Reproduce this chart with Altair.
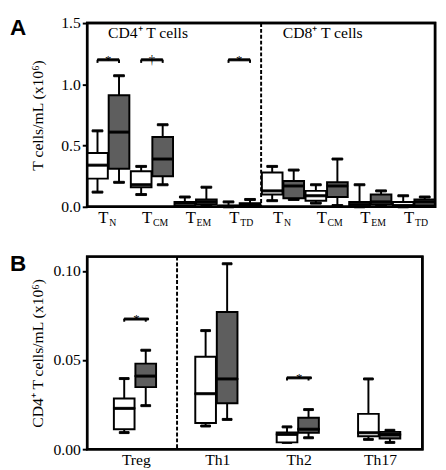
import altair as alt
import pandas as pd

FONT = "Liberation Serif"
groups = ["Control", "Patients"]
fills = ["white", "#5e5e5e"]

# ---------------- Panel A data ----------------
cats_a = ["CD4 TN", "CD4 TCM", "CD4 TEM", "CD4 TTD", "CD8 TN", "CD8 TCM", "CD8 TEM", "CD8 TTD"]
subs_a = ["N", "CM", "EM", "TD", "N", "CM", "EM", "TD"]

a_white_low = [0.12, 0.10, 0.005, 0.0, 0.05, 0.03, 0.0, 0.0]
a_white_q1 = [0.23, 0.16, 0.01, 0.0, 0.10, 0.05, 0.005, 0.0]
a_white_med = [0.34, 0.18, 0.03, 0.005, 0.13, 0.09, 0.02, 0.01]
a_white_q3 = [0.44, 0.29, 0.04, 0.01, 0.28, 0.13, 0.04, 0.04]
a_white_high = [0.62, 0.33, 0.08, 0.04, 0.33, 0.18, 0.18, 0.09]

a_grey_low = [0.20, 0.18, 0.01, 0.005, 0.06, 0.01, 0.01, 0.01]
a_grey_q1 = [0.31, 0.25, 0.02, 0.01, 0.07, 0.08, 0.02, 0.01]
a_grey_med = [0.61, 0.39, 0.04, 0.02, 0.17, 0.17, 0.04, 0.04]
a_grey_q3 = [0.91, 0.57, 0.06, 0.03, 0.21, 0.20, 0.10, 0.06]
a_grey_high = [1.07, 0.67, 0.16, 0.06, 0.30, 0.39, 0.13, 0.08]

a_sig_cats = ["CD4 TN", "CD4 TCM", "CD4 TTD"]
a_sig_y = [1.2, 1.2, 1.2]
a_sig_text = ["*", "†", "*"]

# ---------------- Panel B data ----------------
cats_b = ["Treg", "Th1", "Th2", "Th17"]

b_white_low = [0.0093, 0.0130, 0.0038, 0.0055]
b_white_q1 = [0.0112, 0.0147, 0.0038, 0.0073]
b_white_med = [0.0229, 0.0311, 0.0083, 0.0092]
b_white_q3 = [0.0284, 0.0518, 0.0093, 0.0198]
b_white_high = [0.0396, 0.0665, 0.0125, 0.0394]

b_grey_low = [0.0244, 0.0167, 0.0064, 0.0038]
b_grey_q1 = [0.0348, 0.0258, 0.0092, 0.0060]
b_grey_med = [0.0410, 0.0394, 0.0112, 0.0082]
b_grey_q3 = [0.0480, 0.0769, 0.0176, 0.0097]
b_grey_high = [0.0555, 0.1040, 0.0222, 0.0106]

b_sig_cats = ["Treg", "Th2"]
b_sig_y = [0.073, 0.040]
b_sig_text = ["*", "*"]


def box_table(cats, w, g):
    rows = []
    for i, c in enumerate(cats):
        for grp, vals in zip(groups, (w, g)):
            rows.append({"cat": c, "grp": grp, "low": vals[0][i], "q1": vals[1][i],
                         "med": vals[2][i], "q3": vals[3][i], "high": vals[4][i]})
    return pd.DataFrame(rows)


def panel(df, cats, sig_cats, sig_y, sig_text, end_len, ydomain, yvalues, yformat, ytitle,
          width, height, pin, pout, align, opin, boxw, capw, brw, xaxis, letter, letter_y,
          divider_after):
    xs = alt.Scale(domain=cats, paddingInner=pin, paddingOuter=pout, align=align)
    ys = alt.Scale(domain=ydomain, nice=False, zero=True)
    yaxis = alt.Axis(values=yvalues, format=yformat, title=ytitle, grid=False, domain=False,
                     tickSize=5, tickWidth=2, tickColor="black", labelColor="black",
                     labelFont=FONT, labelFontSize=16, labelPadding=2,
                     titleFont=FONT, titleFontSize=16, titleFontWeight="normal", titleColor="black",
                     minExtent=38, maxExtent=38, titlePadding=5)
    X = alt.X("cat:N", scale=xs, axis=xaxis, title=None)
    XO = alt.XOffset("grp:N", scale=alt.Scale(domain=groups, paddingInner=opin))

    def Y(f):
        return alt.Y(f, scale=ys, axis=yaxis)

    base = alt.Chart(df)
    whisk = base.mark_rule(stroke="black", strokeWidth=2).encode(x=X, xOffset=XO, y=Y("low:Q"), y2="high:Q")
    cap_lo = base.mark_tick(fill="black", stroke="black", opacity=1, thickness=2, size=capw).encode(
        x=X, xOffset=XO, y=Y("low:Q"))
    cap_hi = base.mark_tick(fill="black", stroke="black", opacity=1, thickness=2, size=capw).encode(
        x=X, xOffset=XO, y=Y("high:Q"))
    box = base.mark_bar(stroke="black", strokeWidth=2, opacity=1).encode(
        x=X, xOffset=XO, y=Y("q1:Q"), y2="q3:Q",
        fill=alt.Fill("grp:N", scale=alt.Scale(domain=groups, range=fills), legend=None))
    med = base.mark_tick(fill="black", stroke="black", opacity=1, thickness=2, size=boxw).encode(
        x=X, xOffset=XO, y=Y("med:Q"))

    sig = pd.DataFrame({"cat": sig_cats, "y": sig_y, "t": sig_text})
    ends = pd.DataFrame([{"cat": c, "grp": g, "y": y, "y2": y - end_len}
                         for c, y in zip(sig_cats, sig_y) for g in groups])
    br = alt.Chart(sig).mark_tick(fill="black", stroke="black", opacity=1, thickness=2, size=brw).encode(
        x=X, y=Y("y:Q"))
    br_end = alt.Chart(ends).mark_rule(stroke="black", strokeWidth=2).encode(
        x=X, xOffset=XO, y=Y("y:Q"), y2="y2:Q")
    star = alt.Chart(sig).mark_text(font=FONT, fontSize=13, baseline="alphabetic", dy=4,
                                    fill="black", opacity=1).encode(x=X, y=Y("y:Q"), text="t:N")

    let = alt.Chart(pd.DataFrame({"t": [letter]})).mark_text(
        font="Liberation Sans", fontWeight="bold", fontSize=23, align="left", baseline="top",
        fill="black").encode(text="t:N", x=alt.value(-79), y=alt.value(letter_y))

    # plot frame
    frame = alt.Chart(pd.DataFrame({"f": [0]})).mark_rect(
        fillOpacity=0, stroke="black", strokeWidth=2.5).encode(
        x=alt.value(0), x2=alt.value(width), y=alt.value(0), y2=alt.value(height))

    # dashed divider: boundary between band k and k+1, in "step" units of the band scale
    k = cats.index(divider_after)
    total = len(cats) - pin + 2 * pout
    pos = 2 * pout * align + (k + 1) - pin / 2
    div = alt.Chart(pd.DataFrame({"pos": [pos]})).mark_rule(
        stroke="black", strokeWidth=2, strokeDash=[4, 2]).encode(
        x=alt.X("pos:Q", scale=alt.Scale(domain=[0, total], nice=False, zero=False), axis=None),
        y=alt.value(0), y2=alt.value(height))

    inner = [whisk, cap_lo, cap_hi, box, med, br, br_end, star, let]
    return inner, div, frame, X, Y


VIEW = alt.ViewBackground(stroke="black", strokeWidth=2.5)

# ---- Panel A ----
df_a = box_table(cats_a,
                 (a_white_low, a_white_q1, a_white_med, a_white_q3, a_white_high),
                 (a_grey_low, a_grey_q1, a_grey_med, a_grey_q3, a_grey_high))
HA = 188
WA = 356
inner_a, div_a, frame_a, XA, YA = panel(
    df_a, cats_a, a_sig_cats, a_sig_y, a_sig_text, 0.025, [0, 1.5],
    [0, 0.5, 1.0, 1.5], ".1f", "T cells/mL (x10⁶)", WA, HA,
    0.034, 0.0, 0.5, 0.04, 21, 11, 22, None, "A", -6, "CD4 TTD")

lab_df = pd.DataFrame({"cat": cats_a, "sub": subs_a, "T": ["T"] * len(cats_a)})
t_lab = alt.Chart(lab_df).mark_text(font=FONT, fontSize=17, align="center", baseline="alphabetic",
                                     dx=-5, fill="black").encode(x=XA, y=alt.value(HA + 17), text="T:N")
s_lab = alt.Chart(lab_df).mark_text(font=FONT, fontSize=10, align="left", baseline="alphabetic",
                                     dx=1, fill="black").encode(x=XA, y=alt.value(HA + 20), text="sub:N")
head_df = pd.DataFrame({"cat": ["CD4 TCM", "CD8 TCM"], "y": [1.42, 1.42],
                        "t": ["CD4⁺ T cells", "CD8⁺ T cells"]})
heads = alt.Chart(head_df).mark_text(font=FONT, fontSize=16, baseline="middle", dx=-4,
                                     fill="black").encode(x=XA, y=YA("y:Q"), text="t:N")

chart_a = alt.layer(alt.layer(*inner_a, t_lab, s_lab, heads), div_a, frame_a).resolve_scale(
    x="independent").properties(width=WA, height=HA, view=VIEW)

# ---- Panel B ----
df_b = box_table(cats_b,
                 (b_white_low, b_white_q1, b_white_med, b_white_q3, b_white_high),
                 (b_grey_low, b_grey_q1, b_grey_med, b_grey_q3, b_grey_high))
HB = 197
WB = 343
xaxis_b = alt.Axis(labelFont=FONT, labelFontSize=16, labelColor="black", ticks=False,
                   domain=False, labelPadding=3, labelAngle=0)
inner_b, div_b, frame_b, XB, YB = panel(
    df_b, cats_b, b_sig_cats, b_sig_y, b_sig_text, 0.0015, [0, 0.108],
    [0, 0.05, 0.10], ".2f", "CD4⁺ T cells/mL (x10⁶)", WB, HB,
    0.448, 0.283, 0.58, 0.08, 22, 10, 25, xaxis_b, "B", -3, "Treg")
chart_b = alt.layer(alt.layer(*inner_b), div_b, frame_b).resolve_scale(
    x="independent").properties(width=WB, height=HB, view=VIEW)

chart = alt.vconcat(chart_a, chart_b, spacing=22).properties(
    padding={"left": 0, "top": 0, "right": 0, "bottom": 0},
    background="white",
).configure(font=FONT).configure_view(stroke="black", strokeWidth=2.5).configure_axis(
    labelFont=FONT, titleFont=FONT, labelColor="black", titleColor="black"
)

chart.save("out.html", embed_options={"renderer": "svg", "actions": False})
